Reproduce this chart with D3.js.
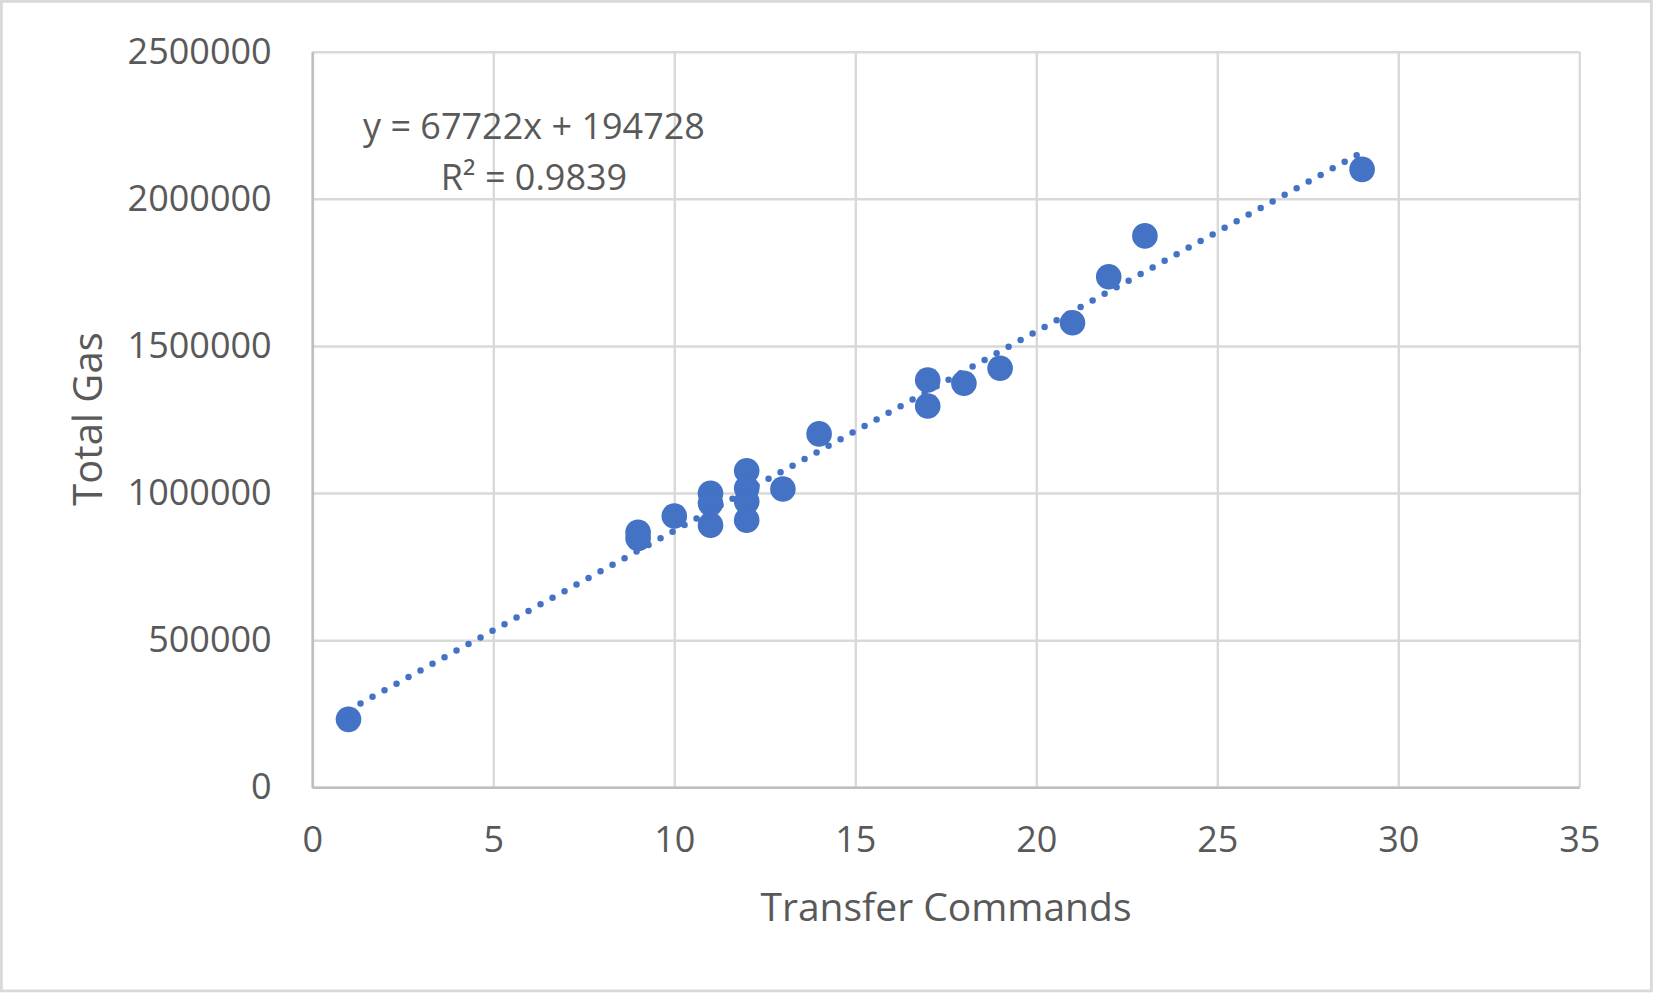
<!DOCTYPE html>
<html>
<head>
<meta charset="utf-8">
<script src="https://cdn.jsdelivr.net/npm/d3@7"></script>
<style>
  body { margin: 0; background: #fff; }
  text { font-family: "Open Sans", sans-serif; fill: #595959; }
</style>
</head>
<body>
<svg width="1653" height="993"></svg>
<script>
// transfer commands vs total gas
var commands = [1, 9, 9, 10, 11, 11, 11, 12, 12, 12, 12, 13, 14, 17, 17, 18, 19, 21, 22, 23, 29];
var gas = [231000, 867000, 846000, 922000, 999000, 965000, 891000, 1076000, 1016000, 971000, 908000,
           1014000, 1201000, 1384000, 1296000, 1373000, 1424000, 1579000, 1735000, 1874000, 2100000];
var xTicks = [0, 5, 10, 15, 20, 25, 30, 35];
var yTicks = [0, 500000, 1000000, 1500000, 2000000, 2500000];
var slope = 67722, intercept = 194728;
var eqLines = ["y = 67722x + 194728", "R² = 0.9839"];

var svg = d3.select("svg"),
    marginLeft = 312.3, marginTop = 51.7,
    width = 1267, height = 735.6,
    blue = "#4472C4";

// outer border
svg.append("rect")
  .attr("x", 1.4).attr("y", 1.4)
  .attr("width", 1650).attr("height", 989.5)
  .attr("fill", "#fff")
  .attr("stroke", "#d9d9d9")
  .attr("stroke-width", 2.8);

var x = d3.scaleLinear().domain([0, 35]).range([0, width]);
var y = d3.scaleLinear().domain([0, 2500000]).range([height, 0]);

var g = svg.append("g").attr("transform", "translate(" + marginLeft + "," + marginTop + ")");

// grid
g.append("g")
  .attr("transform", "translate(0," + height + ")")
  .call(d3.axisBottom(x).tickValues(xTicks).tickSize(-height).tickFormat(""))
  .call(s => s.select(".domain").remove())
  .selectAll("line").attr("stroke", "#d9d9d9").attr("stroke-width", 2.4);

g.append("g")
  .call(d3.axisLeft(y).tickValues(yTicks).tickSize(-width).tickFormat(""))
  .call(s => s.select(".domain").remove())
  .selectAll("line").attr("stroke", "#d9d9d9").attr("stroke-width", 2.4);

// axis lines + labels
var xAxis = g.append("g")
  .attr("transform", "translate(0," + height + ")")
  .call(d3.axisBottom(x).tickValues(xTicks).tickSize(0).tickFormat(d3.format("d")));
xAxis.select(".domain").attr("stroke", "#bfbfbf").attr("stroke-width", 2.6);
xAxis.selectAll("text")
  .attr("y", 64.5).attr("dy", null)
  .style("font-size", "36px");

var yAxis = g.append("g")
  .call(d3.axisLeft(y).tickValues(yTicks).tickSize(0).tickFormat(d3.format("d")));
yAxis.select(".domain").attr("stroke", "#bfbfbf").attr("stroke-width", 2.6);
yAxis.selectAll("text")
  .attr("x", -40.6).attr("dy", "0.32em")
  .style("font-size", "36px");

// points
g.selectAll(".dot")
  .data(commands)
  .enter().append("circle")
  .attr("class", "dot")
  .attr("cx", function(d) { return x(d); })
  .attr("cy", function(d, i) { return y(gas[i]); })
  .attr("r", 12.8)
  .attr("fill", blue);

// trendline over data range
var x0 = d3.min(commands), x1 = d3.max(commands);
g.append("line")
  .attr("x1", x(x0)).attr("y1", y(slope * x0 + intercept))
  .attr("x2", x(x1)).attr("y2", y(slope * x1 + intercept))
  .attr("stroke", blue)
  .attr("stroke-width", 6.5)
  .attr("stroke-linecap", "round")
  .attr("stroke-dasharray", "0 13.7");

// equation label
svg.append("g").selectAll("text")
  .data(eqLines)
  .enter().append("text")
  .attr("x", 534)
  .attr("y", function(d, i) { return 139 + i * 51; })
  .attr("text-anchor", "middle")
  .style("font-size", "36px")
  .text(function(d) { return d; });

// axis titles
svg.append("text")
  .attr("x", 946).attr("y", 920.5)
  .attr("text-anchor", "middle")
  .style("font-size", "39px")
  .text("Transfer Commands");

svg.append("text")
  .attr("transform", "translate(101.7,419) rotate(-90)")
  .attr("text-anchor", "middle")
  .style("font-size", "40px")
  .text("Total Gas");
</script>
</body>
</html>
